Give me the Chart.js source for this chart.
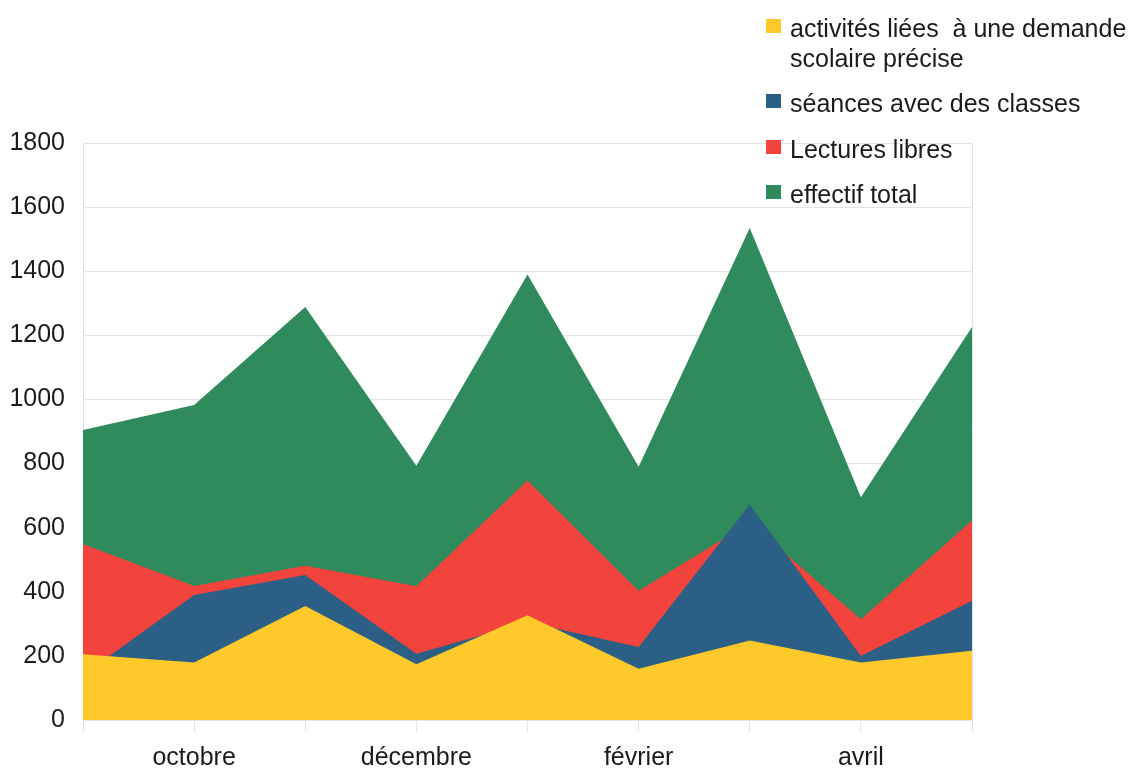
<!DOCTYPE html>
<html>
<head>
<meta charset="utf-8">
<script src="https://cdn.jsdelivr.net/npm/chart.js@4/dist/chart.umd.min.js"></script>
<style>
  html, body { margin: 0; padding: 0; background: #ffffff; }
  #wrap { position: relative; width: 1142px; height: 773px; }
</style>
</head>
<body>
<div id="wrap"><canvas id="c" width="1142" height="773"></canvas></div>
<script>
// ---- data ----
const months = ['septembre', 'octobre', 'novembre', 'décembre', 'janvier', 'février', 'mars', 'avril', 'mai'];
const activites = [205, 179, 356, 174, 327, 160, 248, 179, 216];
const seances   = [140, 390, 452, 207, 305, 228, 672, 200, 372];
const lectures  = [549, 418, 481, 417, 747, 403, 615, 314, 622];
const effectif  = [905, 983, 1288, 793, 1390, 790, 1535, 695, 1226];
const seriesNames = [
  ['activités liées  à une demande', 'scolaire précise'],
  ['séances avec des classes'],
  ['Lectures libres'],
  ['effectif total']
];
const yTicks = [0, 200, 400, 600, 800, 1000, 1200, 1400, 1600, 1800];

const colors = ['#fec92a', '#2c5f85', '#f3433d', '#2f8a5c'];
const FONT = '"Liberation Sans", Arial, Helvetica, sans-serif';
const GRID = '#e2e2ea';

const seriesData = [activites, seances, lectures, effectif];
const datasets = seriesData.map((d, i) => ({
  label: seriesNames[i].join(' '),
  data: d,
  backgroundColor: colors[i],
  borderColor: colors[i],
  borderWidth: 0,
  pointRadius: 0,
  pointHoverRadius: 0,
  tension: 0,
  fill: 'origin'
}));

const sideLegend = {
  id: 'sideLegend',
  afterDraw(chart) {
    const ctx = chart.ctx;
    ctx.save();
    ctx.font = '25px ' + FONT;
    ctx.textBaseline = 'alphabetic';
    const baselines = [37, 112, 158, 203];
    chart.data.datasets.forEach((ds, i) => {
      const b = baselines[i];
      ctx.fillStyle = ds.backgroundColor;
      ctx.fillRect(766, b - 18, 15, 14);
      ctx.fillStyle = '#1b1b1b';
      seriesNames[i].forEach((line, j) => {
        ctx.fillText(line, 790, b + j * 30);
      });
    });
    ctx.restore();
  }
};

const rightBorder = {
  id: 'rightBorder',
  beforeDatasetsDraw(chart) {
    const { ctx, chartArea } = chart;
    ctx.save();
    ctx.strokeStyle = GRID;
    ctx.lineWidth = 1;
    ctx.beginPath();
    ctx.moveTo(Math.round(chartArea.right) + 0.5, chartArea.top);
    ctx.lineTo(Math.round(chartArea.right) + 0.5, chartArea.bottom);
    ctx.stroke();
    ctx.restore();
  }
};

new Chart(document.getElementById('c'), {
  type: 'line',
  data: { labels: months, datasets: datasets },
  plugins: [rightBorder, sideLegend],
  options: {
    responsive: false,
    animation: false,
    events: [],
    layout: { padding: { top: 143, right: 170, left: 0, bottom: 0 } },
    plugins: {
      legend: { display: false },
      tooltip: { enabled: false },
      filler: { propagate: false }
    },
    scales: {
      x: {
        offset: false,
        grid: {
          drawOnChartArea: false,
          drawTicks: true,
          tickLength: 12,
          color: GRID
        },
        border: { display: true, color: GRID },
        ticks: {
          autoSkip: false,
          maxRotation: 0,
          minRotation: 0,
          padding: 11,
          color: '#1b1b1b',
          font: { family: FONT, size: 25 },
          callback: function (v, i) { return i % 2 === 1 ? months[i] : ''; }
        },
        afterFit(scale) { scale.height = 53; }
      },
      y: {
        min: 0,
        max: 1800,
        afterBuildTicks(scale) { scale.ticks = yTicks.map(v => ({ value: v })); },
        grid: { color: GRID, drawTicks: false },
        border: { display: true, color: GRID },
        ticks: {
          padding: 18,
          color: '#1b1b1b',
          font: { family: FONT, size: 25 },
          callback: function (v) { return String(v); }
        },
        afterFit(scale) { scale.width = 83; }
      }
    }
  }
});
</script>
</body>
</html>
